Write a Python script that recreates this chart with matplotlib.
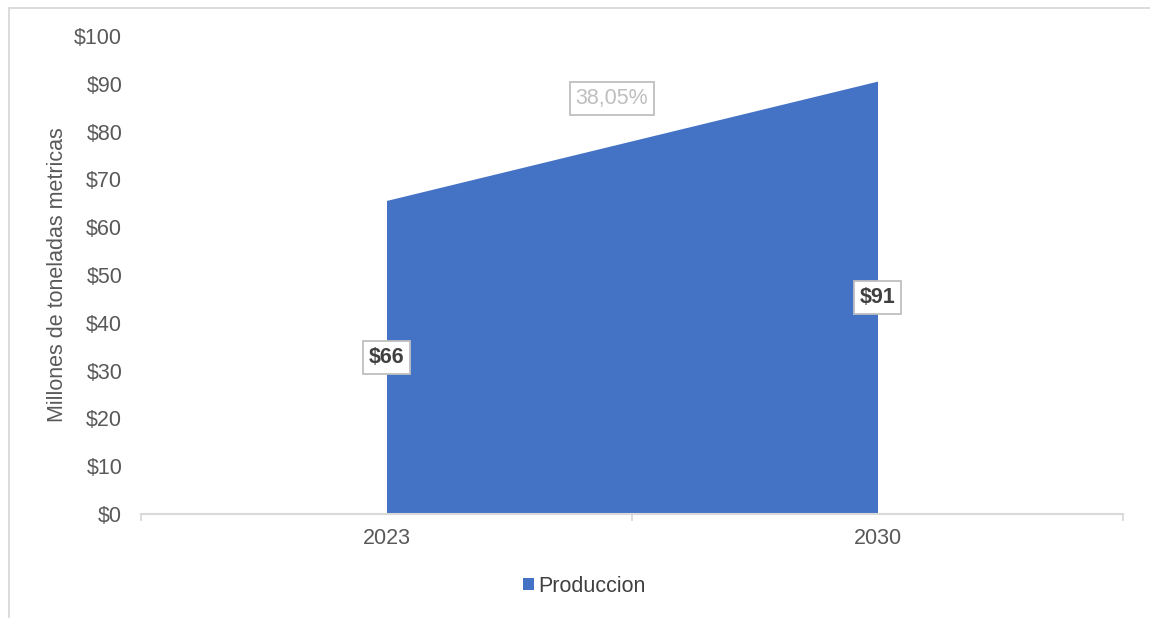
import matplotlib
matplotlib.use("Agg")
import matplotlib.pyplot as plt
from matplotlib.lines import Line2D
from matplotlib.patches import Patch

categories = ["2023", "2030"]
values = [65.6, 90.56]
value_labels = ["$66", "$91"]
growth_label = "38,05%"
series_name = "Produccion"
y_ticks = list(range(0, 101, 10))
y_tick_labels = [f"${v}" for v in y_ticks]

plt.rcParams['font.family'] = ['Liberation Sans', 'DejaVu Sans']

FS = 15.5
W, H = 1150, 618
fig = plt.figure(figsize=(W / 100, H / 100), dpi=100)
ax = fig.add_axes([141 / W, 1 - 514 / H, (1123 - 141) / W, (514 - 36) / H])

x = list(range(len(categories)))
blue = "#4472C4"
ax.fill_between(x, [0] * len(values), values, color=blue, linewidth=0, zorder=2)

ax.set_xlim(-0.5, len(categories) - 0.5)
ax.set_ylim(0, 100)
ax.set_yticks(y_ticks)
ax.set_yticklabels(y_tick_labels)
ax.set_xticks(x)
ax.set_xticklabels(categories)
ax.tick_params(axis='y', length=0, pad=13.5, labelsize=FS, labelcolor="#595959")
ax.tick_params(axis='x', length=0, pad=10, labelsize=FS, labelcolor="#595959")
# category boundary ticks
for b in [-0.5, 0.5, 1.5]:
    ax.plot([b, b], [0, -1.2], color="#D9D9D9", lw=1.3, clip_on=False, zorder=1)

for s in ["top", "right", "left"]:
    ax.spines[s].set_visible(False)
ax.spines["bottom"].set_color("#D9D9D9")
ax.spines["bottom"].set_linewidth(1.5)

ax.set_ylabel("Millones de toneladas metricas", fontsize=FS, color="#595959")
ax.yaxis.set_label_coords(-0.074, 0.5)

box = dict(boxstyle="square,pad=0.28", facecolor="white", edgecolor="#BFBFBF", linewidth=1.3)
for xi, v, lab in zip(x, values, value_labels):
    ax.text(xi, v / 2, lab, ha="center", va="center", fontsize=FS, fontweight="bold",
            color="#404040", bbox=box, zorder=5)

ax.text(0.459, 87, growth_label, ha="center", va="center", fontsize=FS, color="#BFBFBF",
        bbox=dict(boxstyle="square,pad=0.28", facecolor="white", edgecolor="#BFBFBF", linewidth=1.3),
        zorder=5)

handles = [Patch(facecolor=blue, edgecolor="none")]
leg = fig.legend(handles, [series_name], loc="center", bbox_to_anchor=(584 / W, 1 - 586 / H),
                 frameon=False, fontsize=FS, handlelength=0.5, handleheight=0.5,
                 handletextpad=0.2, labelcolor="#404040")

# chart border (left and top only visible)
fig.add_artist(Line2D([9 / W, 9 / W], [0, 1 - 8 / H], color="#D9D9D9", lw=1.3))
fig.add_artist(Line2D([9 / W, 1], [1 - 8 / H, 1 - 8 / H], color="#D9D9D9", lw=1.3))

fig.savefig("out.png", dpi=100, facecolor="white")
